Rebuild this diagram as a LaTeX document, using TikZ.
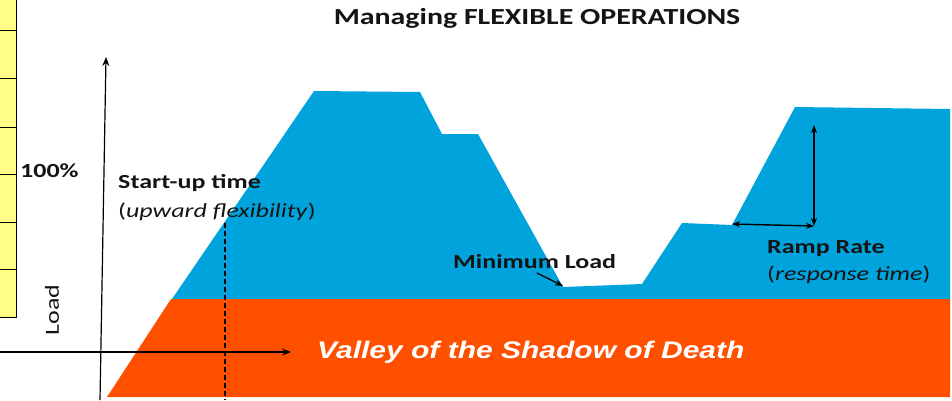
\documentclass[tikz,border=0pt]{standalone}
\usepackage{fontspec}
\usepackage{graphicx}
\usetikzlibrary{arrows.meta}
\newfontfamily\labelfont[FakeStretch=1.3]{Carlito}
\newfontfamily\valleyfont[FakeStretch=1.25]{Liberation Sans}
\definecolor{loadblue}{HTML}{00A3DC}
\definecolor{valleyorange}{HTML}{FF5000}
\definecolor{scaleyellow}{HTML}{FFFF88}
\definecolor{labelink}{HTML}{141414}
\begin{document}
\begin{tikzpicture}[x=1pt,y=-1pt,
  lbl/.style={inner sep=0pt,font=\labelfont\fontsize{20}{23}\selectfont,text=labelink},
  lblleft/.style={lbl,anchor=west},
  boldlbl/.style={lblleft,font=\labelfont\bfseries\fontsize{20}{23}\selectfont},
  axis/.style={line width=1.2pt,-{Stealth[length=9pt,width=7pt]}},
  measure/.style={line width=1.4pt,{Stealth[length=8pt,width=6pt]}-{Stealth[length=8pt,width=6pt]}},
  cell/.style={draw=black,line width=0.9pt,fill=scaleyellow}]
\useasboundingbox (0,0) rectangle (952,400);

% scale column at the left
\foreach \top/\bot in {-5/30,30/78,78/127,127/174,174/222,222/269,269/317}
  \draw[cell] (-5,\top) rectangle (16,\bot);

% output profile of the plant
\fill[loadblue] (172,299) -- (314,91) -- (420,92) -- (442,134) -- (478,134)
  -- (563,287) -- (642,284) -- (682,223) -- (732,225) -- (795,107)
  -- (950,109) -- (950,301) -- cycle;

% band below minimum load
\fill[valleyorange] (107,397) -- (171,299) -- (950,299) -- (950,397) -- cycle;

% axes
\coordinate (yfoot) at (100,400);
\coordinate (ytip) at (106,57);
\coordinate (xfoot) at (0,352);
\coordinate (xtip) at (291,352);
\draw[axis] (yfoot) -- (ytip);
\draw[axis] (xfoot) -- (xtip);

% start-up marker
\coordinate (sutop) at (225,223);
\coordinate (subot) at (225,400);
\draw[line width=1.1pt,dash pattern=on 5pt off 3pt] (sutop) -- (subot);

% ramp rate measures
\coordinate (rrtop) at (814,125);
\coordinate (rrcorner) at (814,226);
\coordinate (rrleft) at (732,224);
\draw[measure] (rrtop) -- (rrcorner);
\draw[measure] (rrleft) -- (rrcorner);

% texts
\node[lbl,font=\labelfont\bfseries\fontsize{23}{26}\selectfont] (title) at (537,18) {Managing FLEXIBLE OPERATIONS};
\node[boldlbl] (pct) at (20,171) {100\%};
\node[lbl,rotate=90] (load) at (52,310) {Load};
\node[boldlbl] (su1) at (118,183) {Start-up time};
\node[lblleft] (su2) at (118,212) {(\textit{upward flexibility})};
\node[boldlbl] (minload) at (453,262) {Minimum Load};
\node[boldlbl] (rr1) at (767,249) {Ramp Rate};
\node[lblleft] (rr2) at (767,275) {(\textit{response time})};
\node[anchor=west,inner sep=0pt,text=white,font=\valleyfont\bfseries\itshape\fontsize{24}{28}\selectfont] (valley) at (317,352) {Valley of the Shadow of Death};

% pointer to the minimum load
\coordinate (mltip) at (563,286);
\draw[line width=1.3pt,-{Stealth[length=8pt,width=6pt]}] (537,273) -- (mltip);
\end{tikzpicture}
\end{document}
